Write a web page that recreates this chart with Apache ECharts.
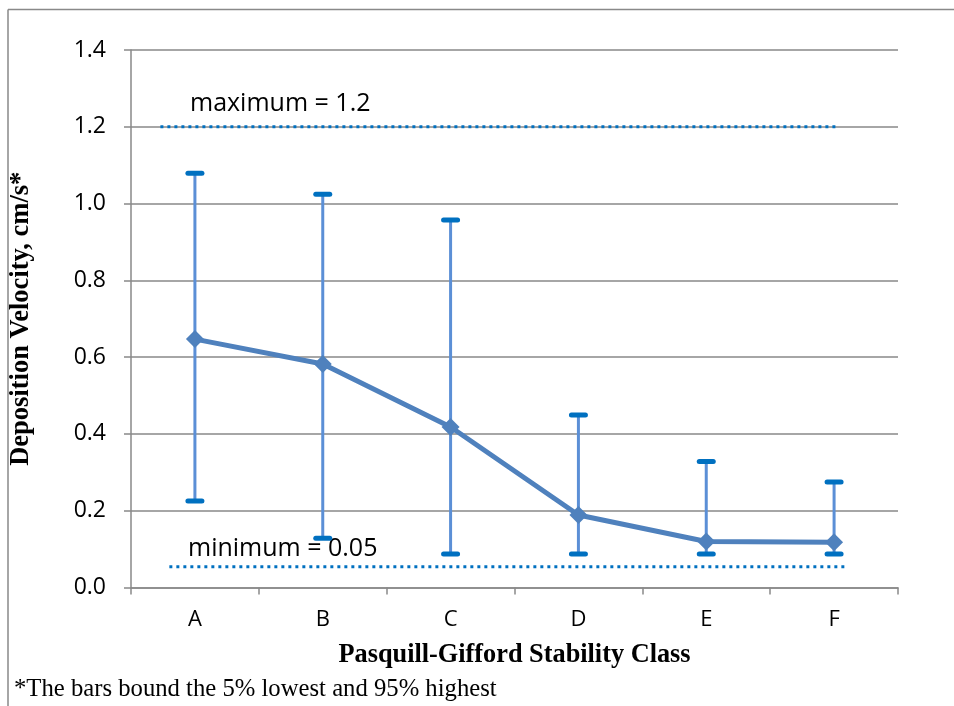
<!DOCTYPE html>
<html>
<head>
<meta charset="utf-8">
<script src="https://cdn.jsdelivr.net/npm/echarts@6/dist/echarts.min.js"></script>
<style>
  html, body { margin: 0; padding: 0; background: #fff; }
  #chart { width: 954px; height: 706px; }
</style>
</head>
<body>
<div id="chart"></div>
<script>
// stability classes and deposition velocities (cm/s)
const classes = ['A', 'B', 'C', 'D', 'E', 'F'];
const meanVel = [0.647, 0.582, 0.418, 0.189, 0.120, 0.118];
const low5 = [0.225, 0.128, 0.087, 0.087, 0.087, 0.087];
const high95 = [1.079, 1.024, 0.957, 0.449, 0.328, 0.275];
const yTicks = [0, 0.2, 0.4, 0.6, 0.8, 1.0, 1.2, 1.4];

// reference lines, x in category units (0..6)
const maxLine = [[0.23, 1.2], [5.52, 1.2]];
const minLine = [[0.30, 0.054], [5.59, 0.054]];

const chart = echarts.init(document.getElementById('chart'));

const errData = classes.map((c, i) => [i, low5[i], high95[i]]);

const option = {
  animation: false,
  backgroundColor: '#fff',
  grid: { left: 130, top: 50, width: 768, height: 537.5 },
  graphic: [
    { type: 'line', shape: { x1: 8, y1: 9.5, x2: 954, y2: 9.5 }, style: { stroke: '#898989', lineWidth: 1.5 } },
    { type: 'line', shape: { x1: 8, y1: 9.5, x2: 8, y2: 706 }, style: { stroke: '#898989', lineWidth: 1.5 } },
    { type: 'text', left: 14, top: 677, style: { text: '*The bars bound the 5% lowest and 95% highest', font: '24.7px "Liberation Serif", serif', fill: '#000' } },
    { type: 'text', left: 190, top: 91, style: { text: 'maximum = 1.2', font: '25px "Open Sans", sans-serif', fill: '#000' } },
    { type: 'text', left: 188, top: 536, style: { text: 'minimum = 0.05', font: '25px "Open Sans", sans-serif', fill: '#000' } }
  ],
  xAxis: [
    {
      type: 'category',
      data: classes,
      boundaryGap: true,
      name: 'Pasquill-Gifford Stability Class',
      nameLocation: 'middle',
      nameGap: 55,
      nameTextStyle: { fontFamily: '"Liberation Serif", serif', fontWeight: 'bold', fontSize: 26.3, color: '#000' },
      axisLine: { lineStyle: { color: '#898989', width: 1.5 } },
      axisTick: { show: true, length: 7, alignWithLabel: false, lineStyle: { color: '#898989', width: 1.5 } },
      axisLabel: { fontFamily: '"Open Sans", sans-serif', fontSize: 22, color: '#000', margin: 21 }
    },
    { type: 'value', min: 0, max: 6, show: false }
  ],
  yAxis: {
    type: 'value',
    min: 0,
    max: 1.4,
    interval: 0.2,
    name: 'Deposition Velocity, cm/s*',
    nameLocation: 'middle',
    nameGap: 96,
    nameTextStyle: { fontFamily: '"Liberation Serif", serif', fontWeight: 'bold', fontSize: 26.5, color: '#000' },
    axisLine: { show: true, lineStyle: { color: '#898989', width: 1.5 } },
    axisTick: { show: true, length: 7, inside: false, lineStyle: { color: '#898989', width: 1.5 } },
    splitLine: { lineStyle: { color: '#898989', width: 1.5 } },
    axisLabel: {
      fontFamily: '"Open Sans", sans-serif', fontSize: 23, color: '#000', margin: 25,
      formatter: v => yTicks.includes(+v.toFixed(1)) ? v.toFixed(1) : ''
    }
  },
  series: [
    {
      type: 'line',
      xAxisIndex: 1,
      data: maxLine,
      symbol: 'none',
      lineStyle: { color: '#0070C0', width: 3, type: [3, 4] },
      z: 2
    },
    {
      type: 'line',
      xAxisIndex: 1,
      data: minLine,
      symbol: 'none',
      lineStyle: { color: '#0070C0', width: 3, type: [3, 4] },
      z: 2
    },
    {
      type: 'custom',
      data: errData,
      z: 3,
      renderItem: (params, api) => {
        const x = api.value(0);
        const lo = api.coord([x, api.value(1)]);
        const hi = api.coord([x, api.value(2)]);
        const half = 7;
        return {
          type: 'group',
          children: [
            { type: 'line', shape: { x1: lo[0], y1: lo[1], x2: hi[0], y2: hi[1] }, style: { stroke: '#5B8FD6', lineWidth: 3 } },
            { type: 'line', shape: { x1: lo[0] - half, y1: lo[1], x2: lo[0] + half, y2: lo[1] }, style: { stroke: '#0070C0', lineWidth: 5, lineCap: 'round' } },
            { type: 'line', shape: { x1: hi[0] - half, y1: hi[1], x2: hi[0] + half, y2: hi[1] }, style: { stroke: '#0070C0', lineWidth: 5, lineCap: 'round' } }
          ]
        };
      }
    },
    {
      type: 'line',
      data: meanVel,
      symbol: 'diamond',
      symbolSize: 18,
      itemStyle: { color: '#4F81BD' },
      lineStyle: { color: '#4F81BD', width: 5 },
      z: 4
    }
  ]
};

chart.setOption(option);
</script>
</body>
</html>
